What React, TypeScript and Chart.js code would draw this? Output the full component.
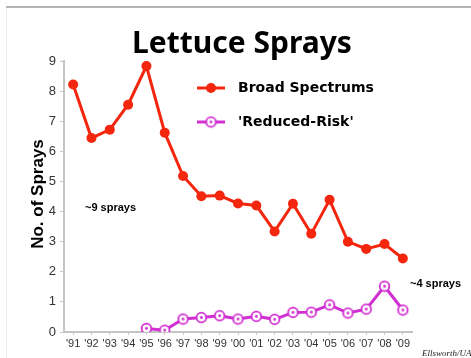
import React, { useEffect, useRef } from "react";
import { Chart, registerables } from "chart.js";

Chart.register(...registerables);

const years = ["'91", "'92", "'93", "'94", "'95", "'96", "'97", "'98", "'99", "'00", "'01", "'02", "'03", "'04", "'05", "'06", "'07", "'08", "'09"];
const broadSpectrums = [8.22, 6.44, 6.72, 7.55, 8.83, 6.62, 5.18, 4.51, 4.53, 4.27, 4.2, 3.34, 4.26, 3.26, 4.39, 3.0, 2.76, 2.92, 2.44];
const reducedRisk = [null, null, null, null, 0.12, 0.06, 0.43, 0.48, 0.54, 0.43, 0.52, 0.42, 0.65, 0.66, 0.9, 0.63, 0.76, 1.52, 0.73];
const yTicks = [0, 0.5, 1, 1.5, 2, 2.5, 3, 3.5, 4, 4.5, 5, 5.5, 6, 6.5, 7, 7.5, 8, 8.5, 9];

const RED = "#f4260e";
const MAGENTA = "#d12fd1";

function makeHollowDot(): HTMLCanvasElement {
  const c = document.createElement("canvas");
  c.width = 13;
  c.height = 13;
  const g = c.getContext("2d")!;
  g.beginPath();
  g.arc(6.5, 6.5, 4.8, 0, Math.PI * 2);
  g.fillStyle = "#ffffff";
  g.fill();
  g.lineWidth = 1.8;
  g.strokeStyle = MAGENTA;
  g.stroke();
  g.beginPath();
  g.arc(6.5, 6.5, 1.4, 0, Math.PI * 2);
  g.fillStyle = MAGENTA;
  g.fill();
  return c;
}

export default function App() {
  const ref = useRef<HTMLCanvasElement | null>(null);
  useEffect(() => {
    if (!ref.current) return;
    const hollow = makeHollowDot();
    const decor = {
      id: "decor",
      beforeDraw(chart: any) {
        const ctx = chart.ctx;
        ctx.save();
        ctx.fillStyle = "#ffffff";
        ctx.fillRect(0, 0, chart.width, chart.height);
        ctx.strokeStyle = "#ececec";
        ctx.lineWidth = 1;
        ctx.beginPath();
        ctx.moveTo(6.5, 7);
        ctx.lineTo(6.5, 358);
        ctx.stroke();
        ctx.strokeStyle = "#b4b4b4";
        ctx.lineWidth = 2;
        ctx.beginPath();
        ctx.moveTo(6, 7);
        ctx.lineTo(471, 7);
        ctx.stroke();
        ctx.restore();
      },
      afterDraw(chart: any) {
        const ctx = chart.ctx;
        ctx.save();
        ctx.fillStyle = "#000";
        ctx.font = 'bold 30px "Noto Sans"';
        ctx.textAlign = "center";
        ctx.textBaseline = "alphabetic";
        ctx.fillText("Lettuce Sprays", 242, 53);
        ctx.save();
        ctx.translate(38, 194);
        ctx.rotate(-Math.PI / 2);
        ctx.font = 'bold 17px "Liberation Sans"';
        ctx.textBaseline = "middle";
        ctx.fillText("No. of Sprays", 0, 0);
        ctx.restore();
        const rows = [
          { label: "Broad Spectrums", color: RED, y: 88, filled: true },
          { label: "'Reduced-Risk'", color: MAGENTA, y: 122, filled: false },
        ];
        rows.forEach((r) => {
          ctx.strokeStyle = r.color;
          ctx.lineWidth = 3;
          ctx.beginPath();
          ctx.moveTo(197, r.y);
          ctx.lineTo(225, r.y);
          ctx.stroke();
          if (r.filled) {
            ctx.fillStyle = r.color;
            ctx.beginPath();
            ctx.arc(211, r.y, 5, 0, Math.PI * 2);
            ctx.fill();
          } else {
            ctx.drawImage(hollow, 211 - 6.5, r.y - 6.5);
          }
          ctx.fillStyle = "#000";
          ctx.font = 'bold 14px "DejaVu Sans"';
          ctx.textAlign = "left";
          ctx.textBaseline = "middle";
          ctx.fillText(r.label, 238, r.y);
        });
        ctx.font = 'bold 11px "Liberation Sans"';
        ctx.textAlign = "left";
        ctx.textBaseline = "middle";
        ctx.fillText("~9 sprays", 85, 208);
        ctx.fillText("~4 sprays", 410, 284);
        ctx.font = 'italic 9px "Liberation Serif"';
        ctx.textBaseline = "alphabetic";
        ctx.fillStyle = "#222";
        ctx.fillText("Ellsworth/UA", 422, 356);
        ctx.restore();
      },
    };
    const chart = new Chart(ref.current, {
      type: "line",
      data: {
        labels: years,
        datasets: [
          {
            label: "Broad Spectrums",
            data: broadSpectrums,
            borderColor: RED,
            backgroundColor: RED,
            borderWidth: 3,
            pointRadius: 5,
            pointBorderWidth: 0,
            pointBackgroundColor: RED,
            tension: 0,
          },
          {
            label: "'Reduced-Risk'",
            data: reducedRisk,
            borderColor: MAGENTA,
            backgroundColor: MAGENTA,
            borderWidth: 3,
            pointStyle: hollow,
            pointRadius: 6,
            tension: 0,
          },
        ],
      },
      options: {
        responsive: false,
        animation: false,
        devicePixelRatio: 1,
        layout: { padding: { left: 0, top: 61, right: 59, bottom: 0 } },
        plugins: { legend: { display: false }, title: { display: false }, tooltip: { enabled: false } },
        scales: {
          x: {
            type: "category",
            offset: true,
            grid: { drawOnChartArea: false, drawTicks: true, tickLength: 3, color: "#c8c8c8" },
            border: { color: "#c4c4c4", width: 2 },
            ticks: { color: "#333", font: { family: "Liberation Sans", size: 11 }, padding: 2, maxRotation: 0, autoSkip: false },
            afterFit: (s: any) => {
              s.height = 26;
            },
          },
          y: {
            min: 0,
            max: 9,
            grid: {
              drawOnChartArea: false,
              drawTicks: true,
              tickLength: 4,
              color: (c: any) => (c.tick && c.tick.value % 1 !== 0 ? "#e2e2e2" : "#c8c8c8"),
            },
            border: { color: "#c4c4c4", width: 2 },
            afterBuildTicks: (s: any) => {
              s.ticks = yTicks.map((v) => ({ value: v }));
            },
            ticks: {
              color: "#333",
              font: { family: "Liberation Sans", size: 13 },
              padding: 4,
              callback: (v: any) => (Number(v) % 1 === 0 ? String(v) : ""),
            },
            afterFit: (s: any) => {
              s.width = 64;
            },
          },
        },
      },
      plugins: [decor],
    } as any);
    return () => chart.destroy();
  }, []);
  return (
    <div style={{ position: "absolute", left: 0, top: 0, width: 471, height: 358, background: "#fff" }}>
      <canvas ref={ref} width={471} height={358} style={{ display: "block", width: 471, height: 358 }} />
    </div>
  );
}
